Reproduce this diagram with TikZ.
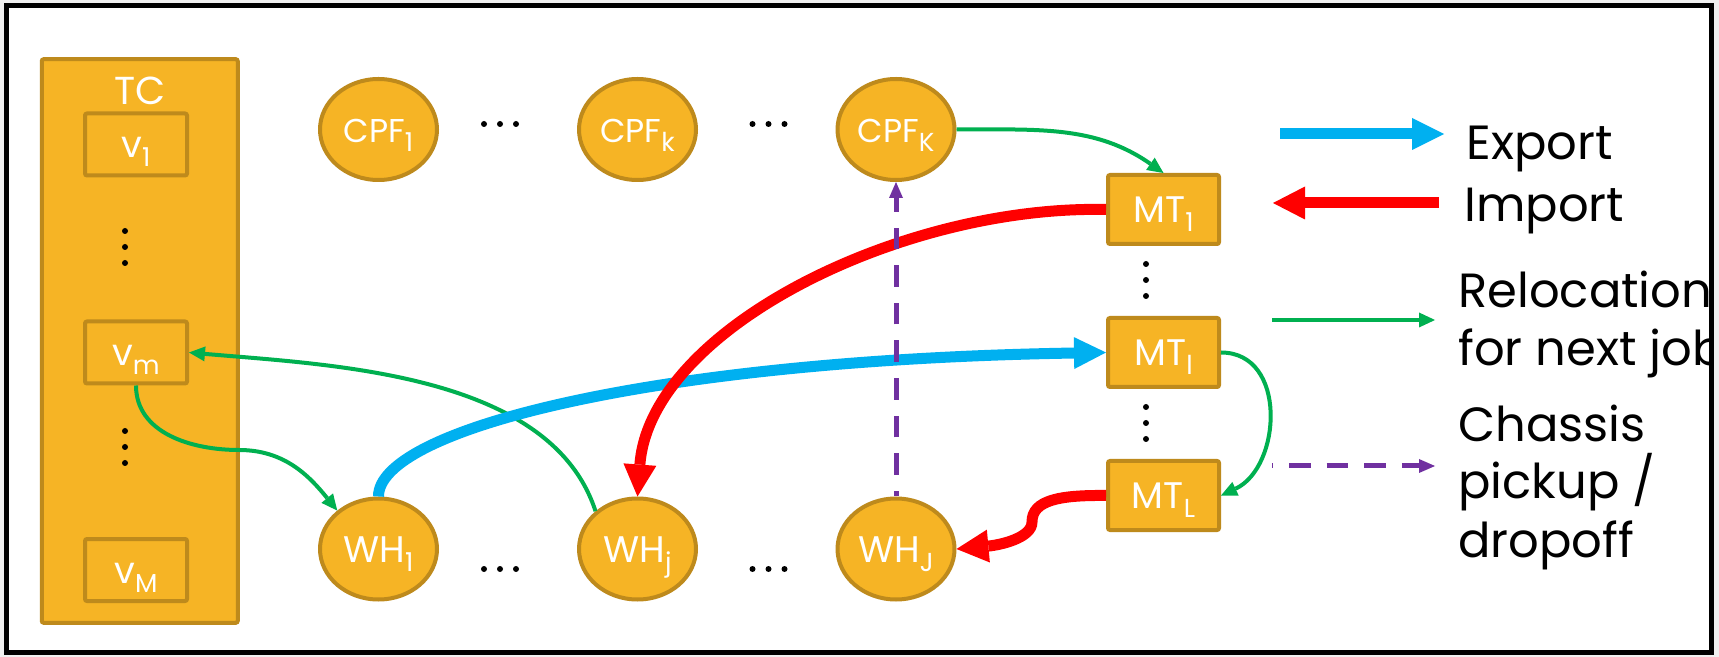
\documentclass[tikz,border=0pt]{standalone}
\usepackage{fontspec}
\setmainfont{Poppins}
\usetikzlibrary{arrows.meta,shapes.geometric,positioning}

\definecolor{gold}{RGB}{246,180,37}
\definecolor{golddark}{RGB}{190,138,28}
\definecolor{expblue}{RGB}{0,176,240}
\definecolor{impred}{RGB}{255,0,0}
\definecolor{relgreen}{RGB}{0,176,80}
\definecolor{chpurple}{RGB}{112,48,160}

% subscript index in the node labels
\newcommand{\lsub}[1]{\raisebox{-4.5pt}{\fontsize{13}{13}\selectfont #1}}

\tikzset{
  unit/.style={draw=golddark, fill=gold, line width=2pt, text=white, inner sep=0pt,
    text height=13pt, text depth=0pt},
  tcbox/.style={unit, rectangle, rounded corners=1pt, minimum width=98pt, minimum height=281.8pt},
  vbox/.style={unit, rectangle, rounded corners=1pt, minimum width=51pt, minimum height=31pt,
    font=\fontsize{18.5}{20}\selectfont},
  mtbox/.style={unit, rectangle, rounded corners=1pt, minimum width=55.5pt, minimum height=34.5pt,
    font=\fontsize{18.5}{20}\selectfont},
  site/.style={unit, ellipse, minimum width=58.5pt, minimum height=50.5pt,
    font=\fontsize{18.5}{20}\selectfont},
  legtext/.style={anchor=base west, inner sep=0pt, align=left, font=\fontsize{24}{29}\selectfont},
  exparrow/.style={draw=expblue, line width=5.5pt, -{Triangle[length=16pt,width=16pt,line width=0pt]}},
  imparrow/.style={draw=impred, line width=5.5pt, -{Triangle[length=16pt,width=16.5pt,line width=0pt]}},
  relarrow/.style={draw=relgreen, line width=2pt, -{Triangle[length=8pt,width=7.5pt,line width=0pt]}},
  chsarrow/.style={draw=chpurple, line width=2.5pt, dash pattern=on 10.8pt off 8pt,
    -{Triangle[length=8pt,width=7pt,line width=0pt]}},
}

\begin{document}
\begin{tikzpicture}[x=0.5pt,y=0.5pt]
  \useasboundingbox (0,0) rectangle (1719,-657);
  \coordinate (fr1) at (6.5,-5.8);
  \coordinate (fr2) at (1711.5,-652.5);
  \fill[black!6] (0,0) rectangle (1719,-657);
  \fill[white] (fr1) rectangle (fr2);

  % terminal with its vehicles
  \node[tcbox] (tc) at (139.75,-341) {};
  \node[anchor=base, text=white, font=\fontsize{19.5}{20}\selectfont] (tcname)
    at ([yshift=-23.5pt]tc.north) {TC};
  \node[vbox] (v1) at (136,-144.5) {v\lsub{1}};
  \node[vbox] (vm) at (136,-352.5) {v\lsub{m}};
  \node[vbox] (vM) at (136,-570) {v\lsub{M}};

  % facilities
  \foreach \nm/\x/\s in {cpfa/378.5/1, cpfk/637.5/k, cpfK/896/K}{
    \node[site, font=\fontsize{16.5}{18}\selectfont] (\nm) at (\x,-129.5) {CPF\lsub{\s}};
  }
  \foreach \nm/\x/\s in {wha/378.5/1, whj/637.5/j, whJ/896/J}{
    \node[site] (\nm) at (\x,-549) {WH\lsub{\s}};
  }
  \node[mtbox] (mt1) at (1163.5,-209.5) {MT\lsub{1}};
  \node[mtbox] (mtl) at (1163.5,-352.5) {MT\lsub{l}};
  \node[mtbox] (mtL) at (1163.5,-495.5) {MT\lsub{L}};

  % dots
  \foreach \x/\y in {500/124, 768.5/124, 500/569, 768.5/569}{
    \foreach \d in {-16,0,16}{
      \fill (\x+\d,-\y) circle (3);
    }
  }
  \foreach \x/\y in {125/247, 125/447, 1146/280, 1146/423}{
    \foreach \d in {-16,0,16}{
      \fill (\x,-\y+\d) circle (3);
    }
  }

  % moves
  \coordinate (bendA) at (239,-450);
  \coordinate (wigA) at (1032,-522);
  \draw[relarrow] (vm.south) to[out=-90,in=180] (bendA) to[out=0,in=129] (wha.137);
  \draw[relarrow] (whj.138) to[out=108,in=-5,looseness=0.85] (vm.east);
  \draw[exparrow] (wha.north) .. controls (378,-430) and (650,-360) .. (mtl.west);
  \draw[imparrow] (mt1.west) .. controls (900,-205) and (650,-330) .. (whj.north);
  \draw[imparrow] (mtL.west) .. controls (1060,-495) and (1032,-500) .. (wigA)
    .. controls (1032,-538) and (1000,-545) .. (whJ.east);
  \draw[relarrow] (cpfK.east) to[out=0,in=145] (mt1.north);
  \draw[relarrow] (mtl.east) to[out=0,in=25,looseness=1.2] (mtL.east);
  \draw[chsarrow, dash phase=8pt] (whJ.north) -- (cpfK.south);

  % legend
  \coordinate (ex1) at (1280,-134);  \coordinate (ex2) at (1444,-134);
  \coordinate (im1) at (1439,-203);  \coordinate (im2) at (1273,-203);
  \coordinate (rl1) at (1272,-320);  \coordinate (rl2) at (1435,-320);
  \coordinate (ch1) at (1272,-466);  \coordinate (ch2) at (1435,-466);
  \draw[exparrow] (ex1) -- (ex2);
  \draw[imparrow] (im1) -- (im2);
  \draw[relarrow] (rl1) -- (rl2);
  \draw[chsarrow, dash phase=10.3pt] (ch1) -- (ch2);
  \begin{scope}
    \clip (fr1) rectangle (fr2);
    \node[legtext] (lexp) at (1466,-160) {Export};
    \node[legtext] (limp) at (1464,-222) {Import};
    \node[legtext] (lrel) at (1458,-366) {Relocation\\for next job};
    \node[legtext] (lchs) at (1458,-557) {Chassis\\pickup /\\dropoff};
  \end{scope}

  \draw[line width=2.5pt] (fr1) rectangle (fr2);
\end{tikzpicture}
\end{document}
